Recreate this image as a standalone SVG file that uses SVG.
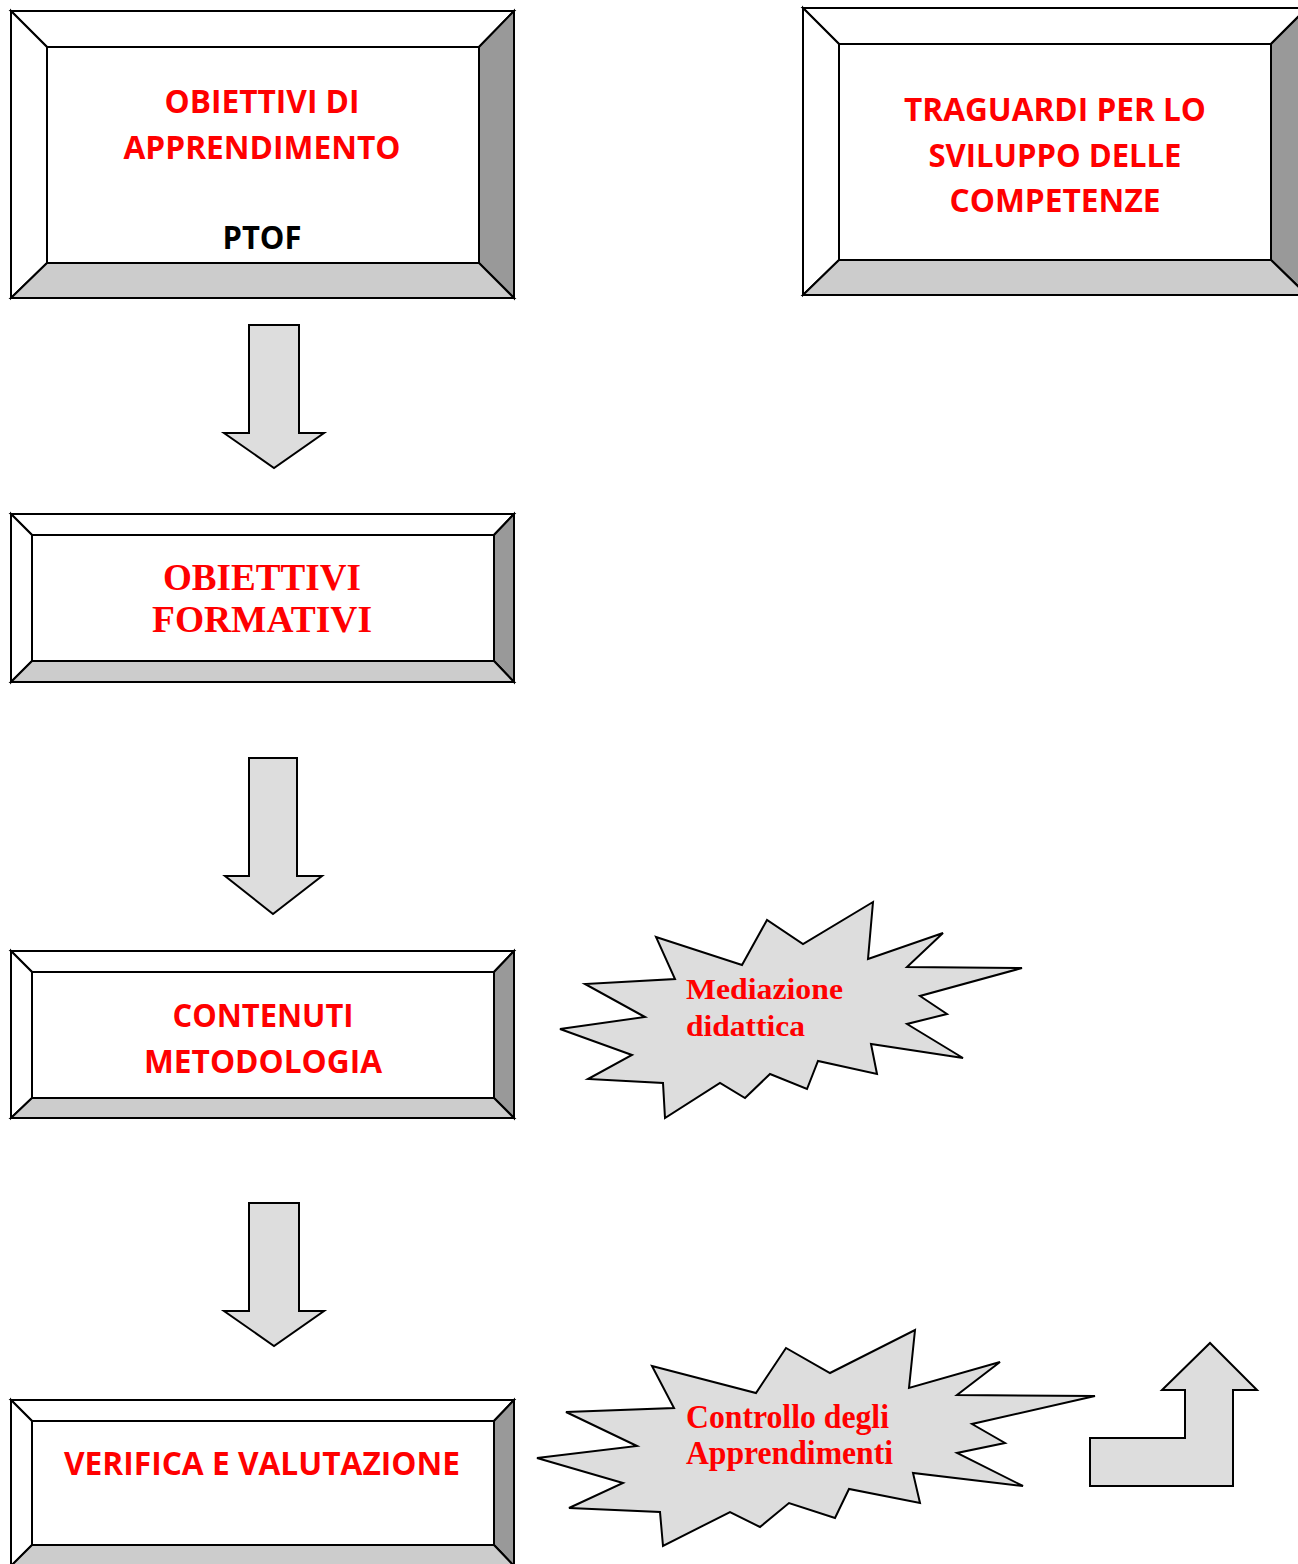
<svg xmlns="http://www.w3.org/2000/svg" width="1298" height="1564" viewBox="0 0 1298 1564">
<style>
.ol{stroke:#000;stroke-width:2;stroke-linejoin:miter}
.tp{fill:#fff}.lf{fill:#fff}.rt{fill:#999}.bt{fill:#ccc}.in{fill:#fff}
.sh{fill:#ddd;stroke:#000;stroke-width:2;stroke-linejoin:miter}
.sans{font-family:"Open Sans","Liberation Sans",Arial,sans-serif;font-weight:bold;font-size:33px}
.serif{font-family:"Liberation Serif","Times New Roman",serif;font-weight:bold}
.red{fill:#ff0000}.blk{fill:#000}
</style>
<rect width="1298" height="1564" fill="#fff"/>

<g id="node-obiettivi-apprendimento">
<polygon class="tp ol" points="11,11 514,11 479,47 47,47"/>
<polygon class="lf ol" points="11,11 47,47 47,263 11,298"/>
<polygon class="rt ol" points="514,11 514,298 479,263 479,47"/>
<polygon class="bt ol" points="11,298 47,263 479,263 514,298"/>
<rect class="in ol" x="47" y="47" width="432" height="216"/>
<text class="sans red" x="262" y="113" text-anchor="middle" textLength="195" lengthAdjust="spacingAndGlyphs">OBIETTIVI DI</text>
<text class="sans red" x="262" y="159" text-anchor="middle" textLength="277" lengthAdjust="spacingAndGlyphs">APPRENDIMENTO</text>
<text class="sans blk" x="262" y="249" text-anchor="middle" textLength="79" lengthAdjust="spacingAndGlyphs">PTOF</text>
</g>

<g id="node-traguardi">
<polygon class="tp ol" points="803,8 1307,8 1271,44 839,44"/>
<polygon class="lf ol" points="803,8 839,44 839,260 803,295"/>
<polygon class="rt ol" points="1307,8 1307,295 1271,260 1271,44"/>
<polygon class="bt ol" points="803,295 839,260 1271,260 1307,295"/>
<rect class="in ol" x="839" y="44" width="432" height="216"/>
<text class="sans red" x="1055" y="121" text-anchor="middle" textLength="302" lengthAdjust="spacingAndGlyphs">TRAGUARDI PER LO</text>
<text class="sans red" x="1055" y="167" text-anchor="middle" textLength="253" lengthAdjust="spacingAndGlyphs">SVILUPPO DELLE</text>
<text class="sans red" x="1055" y="212" text-anchor="middle" textLength="211" lengthAdjust="spacingAndGlyphs">COMPETENZE</text>
</g>

<g id="node-obiettivi-formativi">
<polygon class="tp ol" points="11,514 514,514 494,535 32,535"/>
<polygon class="lf ol" points="11,514 32,535 32,661 11,682"/>
<polygon class="rt ol" points="514,514 514,682 494,661 494,535"/>
<polygon class="bt ol" points="11,682 32,661 494,661 514,682"/>
<rect class="in ol" x="32" y="535" width="462" height="126"/>
<text class="serif red" font-size="38" x="262" y="590" text-anchor="middle" textLength="198" lengthAdjust="spacingAndGlyphs">OBIETTIVI</text>
<text class="serif red" font-size="38" x="262" y="632" text-anchor="middle" textLength="220" lengthAdjust="spacingAndGlyphs">FORMATIVI</text>
</g>

<g id="node-contenuti">
<polygon class="tp ol" points="11,951 514,951 494,972 32,972"/>
<polygon class="lf ol" points="11,951 32,972 32,1098 11,1118"/>
<polygon class="rt ol" points="514,951 514,1118 494,1098 494,972"/>
<polygon class="bt ol" points="11,1118 32,1098 494,1098 514,1118"/>
<rect class="in ol" x="32" y="972" width="462" height="126"/>
<text class="sans red" x="263" y="1027" text-anchor="middle" textLength="181" lengthAdjust="spacingAndGlyphs">CONTENUTI</text>
<text class="sans red" x="263" y="1073" text-anchor="middle" textLength="238" lengthAdjust="spacingAndGlyphs">METODOLOGIA</text>
</g>

<g id="node-verifica">
<polygon class="tp ol" points="11,1400 514,1400 494,1421 32,1421"/>
<polygon class="lf ol" points="11,1400 32,1421 32,1545 11,1566"/>
<polygon class="rt ol" points="514,1400 514,1566 494,1545 494,1421"/>
<polygon class="bt ol" points="11,1566 32,1545 494,1545 514,1566"/>
<rect class="in ol" x="32" y="1421" width="462" height="124"/>
<text class="sans red" x="262" y="1475" text-anchor="middle" textLength="396" lengthAdjust="spacingAndGlyphs">VERIFICA E VALUTAZIONE</text>
</g>

<g id="node-mediazione">
<polygon class="sh" points="656,937 742,965 767,920 803,944 873,902 868,959 943,933 907,967 1022,968 920,996 947,1014 907,1024 963,1058 871,1044 877,1074 818,1061 807,1089 770,1074 745,1098 720,1083 665,1118 663,1083 588,1079 632,1055 560,1029 645,1017 585,984 675,979"/>
<text class="serif red" font-size="29" x="686" y="999" textLength="157" lengthAdjust="spacingAndGlyphs">Mediazione</text>
<text class="serif red" font-size="29" x="686" y="1036" textLength="119" lengthAdjust="spacingAndGlyphs">didattica</text>
</g>

<g id="node-controllo">
<polygon class="sh" points="652,1366 756,1393 786,1348 830,1373 915,1330 909,1388 1000,1362 957,1395 1095,1396 972,1424 1005,1443 957,1453 1023,1486 913,1473 920,1503 849,1489 835,1518 789,1503 760,1527 730,1512 663,1546 660,1512 569,1508 623,1483 537,1458 637,1446 566,1412 674,1408"/>
<text class="serif red" font-size="34" x="686" y="1428" textLength="203" lengthAdjust="spacingAndGlyphs">Controllo degli</text>
<text class="serif red" font-size="34" x="686" y="1464" textLength="207" lengthAdjust="spacingAndGlyphs">Apprendimenti</text>
</g>

<g id="connectors">
<polygon class="sh" points="249,325 299,325 299,433 324,433 274,468 224,433 249,433"/>
<polygon class="sh" points="249,758 297,758 297,876 322,876 273,914 225,876 249,876"/>
<polygon class="sh" points="249,1203 299,1203 299,1311 324,1311 274,1346 224,1311 249,1311"/>
<polygon class="sh" points="1090,1438 1185,1438 1185,1390 1162,1390 1210,1343 1257,1390 1233,1390 1233,1486 1090,1486"/>
</g>
</svg>
